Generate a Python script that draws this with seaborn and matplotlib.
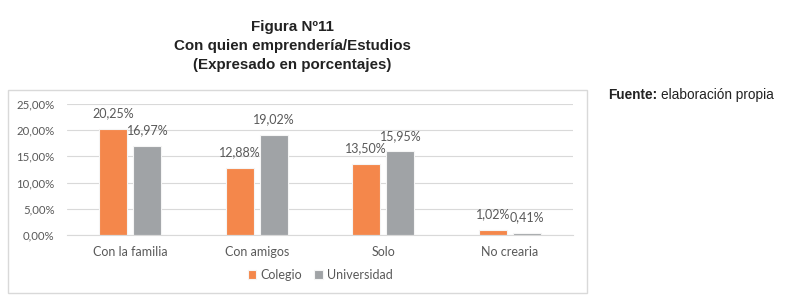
import pandas as pd
import matplotlib.pyplot as plt
import seaborn as sns
from matplotlib.patches import Rectangle

# data
categorias = ["Con la familia", "Con amigos", "Solo", "No crearia"]
colegio = [20.25, 12.88, 13.50, 1.02]
universidad = [16.97, 19.02, 15.95, 0.41]
series = ["Colegio", "Universidad"]
yticks = [0, 5, 10, 15, 20, 25]

df = pd.DataFrame({
    "Categoria": categorias * 2,
    "Serie": [series[0]] * 4 + [series[1]] * 4,
    "Valor": colegio + universidad,
})

sns.set_style("white")
plt.rcParams["font.family"] = ["Lato", "DejaVu Sans"]
txt = "#595959"

fig = plt.figure(figsize=(7.85, 3.01), dpi=100)

# marco del grafico
fig.patches.append(Rectangle((8 / 785, 1 - 293 / 301), 579 / 785, 203 / 301,
                             transform=fig.transFigure, fill=False,
                             edgecolor="#d9d9d9", linewidth=1))

ax = fig.add_axes([67 / 785, 1 - 235 / 301, 506 / 785, 131 / 301])
sns.barplot(data=df, x="Categoria", y="Valor", hue="Serie", ax=ax,
            palette=["#F4874B", "#A0A3A6"], saturation=1, width=0.54, gap=0.18,
            edgecolor="#f5f5f5", linewidth=0.8, legend=True)

ax.set_ylim(0, 25)
ax.set_yticks(yticks)
ax.set_yticklabels([f"{v:.2f}%".replace(".", ",") for v in yticks],
                   fontsize=8.2, color=txt)
ax.yaxis.grid(True, color="#d9d9d9", linewidth=0.8)
ax.set_axisbelow(True)
for s in ["top", "right", "left"]:
    ax.spines[s].set_visible(False)
ax.spines["bottom"].set_color("#d9d9d9")
ax.tick_params(axis="both", length=0)
ax.tick_params(axis="x", labelsize=9, labelcolor=txt, pad=8)
ax.tick_params(axis="y", pad=9)
ax.set_xlabel("")
ax.set_ylabel("")

for cont in ax.containers:
    ax.bar_label(cont, labels=[f"{v:.2f}%".replace(".", ",") for v in cont.datavalues],
                 fontsize=9, color=txt, padding=7, clip_on=False)

ax.legend(loc="upper center", bbox_to_anchor=(0.5, -0.17), ncol=2, frameon=False,
          fontsize=9, labelcolor=txt, handlelength=0.7, handleheight=0.7,
          handletextpad=0.3, columnspacing=1.0)

titulo = ["Figura Nº11", "Con quien emprendería/Estudios", "(Expresado en porcentajes)"]
for i, linea in enumerate(titulo):
    fig.text(292 / 785, 1 - (27 + 19 * i) / 301, linea, ha="center", va="center",
             fontsize=10.9, fontweight="bold", color="#222222", family="Liberation Sans")

fuente = fig.text(608 / 785, 1 - 95 / 301, "Fuente:", ha="left", va="center",
                  fontsize=9.8, fontweight="bold", color="#222222", family="Liberation Sans")
fig.canvas.draw()
bb = fuente.get_window_extent()
fig.text((bb.x1 + 4) / 785, 1 - 95 / 301, "elaboración propia", ha="left", va="center",
         fontsize=9.8, color="#222222", family="Liberation Sans")

fig.savefig("out.png", dpi=100)
